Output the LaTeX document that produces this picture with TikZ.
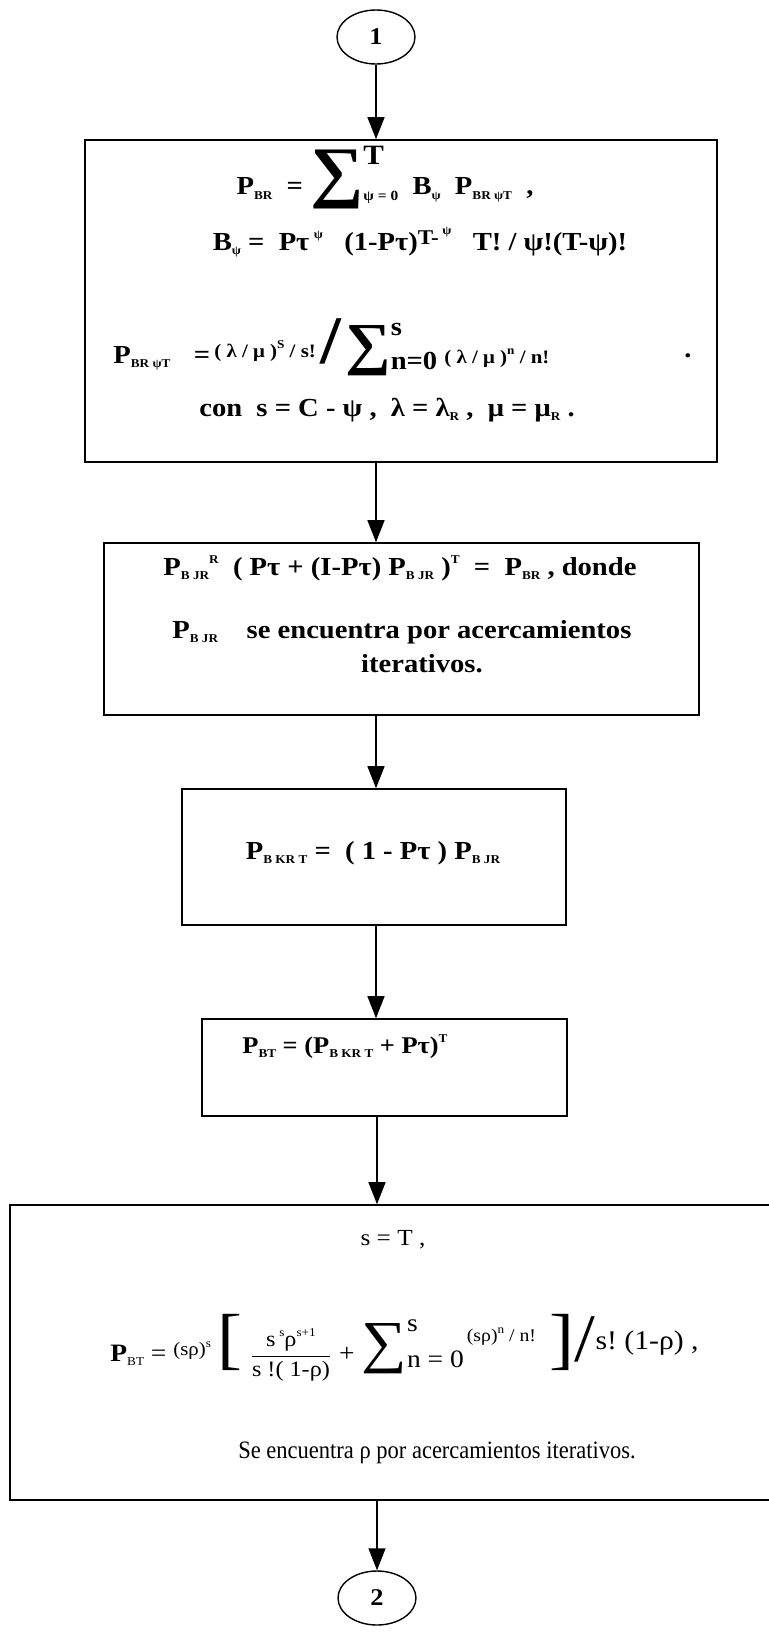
\documentclass[tikz,border=0pt]{standalone}
\usepackage{fontspec}
\setmainfont[FakeStretch=1.1]{Liberation Serif}
\newfontfamily\narrowfont[FakeStretch=0.9]{Liberation Serif}
\usepackage{amsmath}
\usetikzlibrary{arrows.meta,shapes.geometric,positioning}

\newcommand{\sbs}[1]{\raisebox{-0.35ex}{\fontsize{6}{6}\selectfont #1}}
\newcommand{\sps}[1]{\raisebox{1ex}{\fontsize{6}{6}\selectfont #1}}
\newcommand{\bigsign}[2]{{\fontsize{#1}{#1}\selectfont #2}}

\begin{document}
\begin{tikzpicture}[x=0.5pt,y=-0.5pt,
    box/.style={draw,line width=0.8pt,inner sep=0pt},
    term/.style={draw,ellipse,line width=0.7pt,minimum width=39pt,minimum height=27pt,inner sep=0pt,font=\bfseries\fontsize{12}{14}\selectfont},
    txt/.style={inner sep=0pt,font=\bfseries\fontsize{13}{15}\selectfont},
    plain/.style={inner sep=0pt,font=\fontsize{12.5}{15}\selectfont},
    flow/.style={line width=0.7pt,-{Triangle[length=11pt,width=8.5pt]}}]
\useasboundingbox (0,0) rectangle (769,1633);

% terminals
\node[term] (e1) at (376,37) {1};
\node[term] (e2) at (377,1598) {2};

% boxes
\node[box,minimum width=316pt,minimum height=161pt] (b1) at (401,301) {};
\node[box,minimum width=297.5pt,minimum height=86pt] (b2) at (401.5,629) {};
\node[box,minimum width=192pt,minimum height=68pt] (b3) at (374,857) {};
\node[box,minimum width=182.5pt,minimum height=48.5pt] (b4) at (384.5,1067.5) {};
\node[box,minimum width=386pt,minimum height=147.5pt] (b5) at (396,1352.5) {};

% box 1
\node[txt] (b1l1) at (385,178) {P\sbs{BR} \ = \bigsign{34}{∑}\rlap{\raisebox{15pt}{\fontsize{14}{14}\selectfont T}}\raisebox{-3pt}{\fontsize{7}{7}\selectfont ψ = 0}\ \ B\sbs{ψ}\ \ P\sbs{BR ψT}\ \ ,};
\node[txt] (b1l2) at (420,242) {B\sbs{ψ}\ = \ Pτ\,\sps{ψ}\ \ \ (1-Pτ)\raisebox{0.5ex}{\fontsize{10.5}{10.5}\selectfont T-\,\sps{ψ}}\ \ \ T! / ψ!(T-ψ)!};
\node[txt,anchor=west] (b1l4) at (113,347) {P\sbs{BR ψT}\hspace{0.9em}=\,\raisebox{3pt}{\fontsize{9.5}{12}\selectfont( λ / μ )\sps{S} / s!}\,\bigsign{34}{/}\,\bigsign{29}{∑}\rlap{\raisebox{14pt}{s}}\raisebox{-3pt}{n=0}\ {\fontsize{9.5}{12}\selectfont( λ / μ )\sps{n} / n!}};
\node[txt] (b1dot) at (688,356) {.};
\node[txt] (b1l5) at (387,410) {con\ \ s = C - ψ ,\ \ λ = λ\sbs{R} ,\ \ μ = μ\sbs{R} .};

% box 2
\node[txt] (b2l1) at (400,568) {P\sbs{B JR}\sps{R}\ \ ( Pτ + (I-Pτ) P\sbs{B JR} )\sps{T}\ \ = \ P\sbs{BR} , donde};
\node[txt,anchor=west] (b2l2) at (172,632) {P\sbs{B JR}\hspace{1.1em}se encuentra por acercamientos};
\node[txt] (b2l3) at (422,664) {iterativos.};

% box 3 and 4
\node[txt] (b3l1) at (373,853) {P\sbs{B KR T} = \ ( 1 - Pτ ) P\sbs{B JR}};
\node[txt,anchor=west,font=\bfseries\fontsize{12}{14}\selectfont] (b4l1) at (242,1047) {P\sbs{BT} = (P\sbs{B KR T} + Pτ)\sps{T}};

% box 5
\node[plain,font=\fontsize{11.5}{14}\selectfont] (b5l1) at (393,1240) {s = T ,};
\node[plain,anchor=west] (b5l2) at (110,1348) {\textbf{P}\sbs{BT}\ = \raisebox{3pt}{\fontsize{9.5}{12}\selectfont (sρ)\sps{s}}\ \bigsign{34}{[}\ {\fontsize{11}{13}\selectfont$\dfrac{\mbox{s\,\sps{s}ρ\sps{s+1}}}{\mbox{s !( 1-ρ)}}$}\ + \bigsign{29}{∑}\rlap{\raisebox{15pt}{s}}\raisebox{-3pt}{n = 0}\raisebox{10pt}{\fontsize{9}{9}\selectfont\,(sρ)\sps{n} / n!}\ \ \bigsign{34}{]}\bigsign{34}{/}\raisebox{6pt}{\fontsize{13.5}{15}\selectfont s!\ (1-ρ)\ ,}};
\node[plain] (b5l3) at (437,1453) {\narrowfont Se encuentra ρ por acercamientos iterativos.};

% connectors
\draw[flow] (e1.south) -- (e1.south |- b1.north);
\draw[flow] (b1.south -| e1) -- (b2.north -| e1);
\draw[flow] (b2.south -| e1) -- (b3.north -| e1);
\draw[flow] (b3.south -| e1) -- (b4.north -| e1);
\draw[flow] (b4.south -| e2) -- (b5.north -| e2);
\draw[flow] (b5.south -| e2) -- (e2.north);
\end{tikzpicture}
\end{document}
